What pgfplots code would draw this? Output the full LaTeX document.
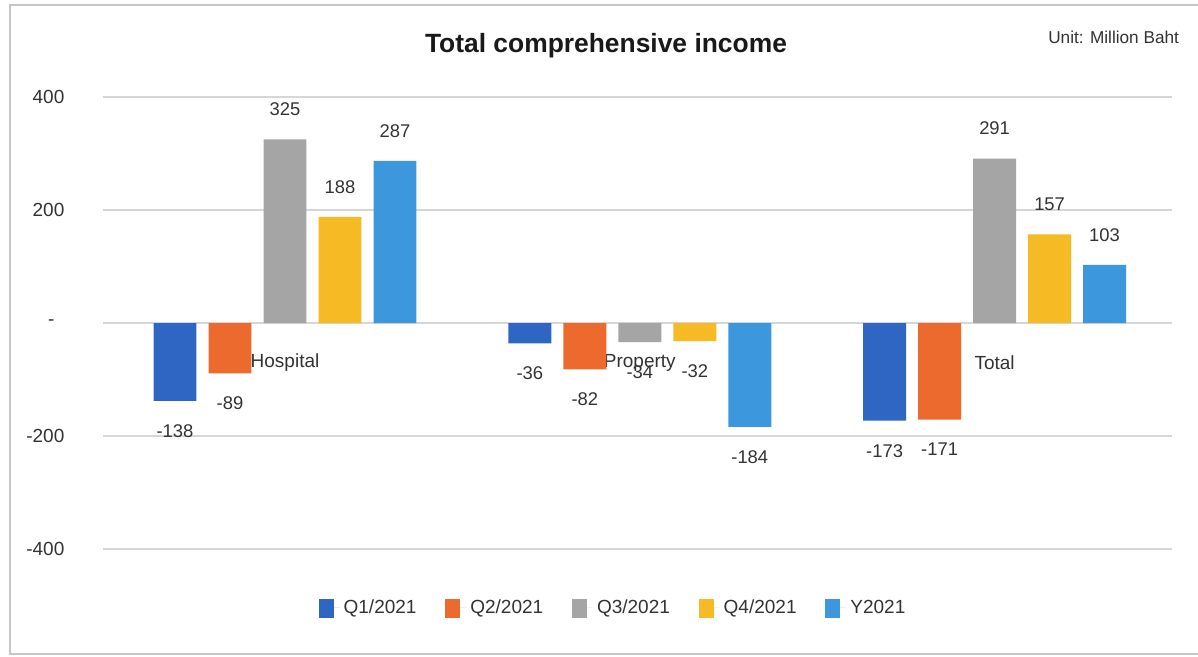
\documentclass[border=0pt]{standalone}
\usepackage{fontspec}
\setmainfont{Liberation Sans}
\usepackage{pgfplots}
\usepackage{pgfplotstable}
\pgfplotsset{compat=1.18}
\definecolor{cqa}{HTML}{2F66C4}
\definecolor{cqb}{HTML}{EC6A2E}
\definecolor{cqc}{HTML}{A5A5A5}
\definecolor{cqd}{HTML}{F6BA24}
\definecolor{cyr}{HTML}{3C97DC}
\definecolor{txt}{HTML}{333333}

\pgfplotstableread{
x q1 q2 q3 q4 yr
0 -138 -89 325 188 287
1 -36 -82 -34 -32 -184
2 -173 -171 291 157 103
}\data

\begin{document}
\begin{tikzpicture}[x=1pt,y=1pt]
\useasboundingbox (-51.5,-54) rectangle (547.5,274.5);
\fill[white] (-51.5,-54) rectangle (547.5,274.5);
\draw[black!22, line width=0.6pt] (547.5,272) -- (-46.5,272) -- (-46.5,-52.5) -- (547.5,-52.5);
\begin{axis}[
  at={(0,0)}, anchor=south west,
  scale only axis, width=534.5pt, height=226pt,
  xmin=-0.513, xmax=2.5, ymin=-400, ymax=400,
  axis line style={draw=none}, major tick length=0pt,
  ytick={-400,-200,0,200,400},
  yticklabels={-400,-200,{-\kern5pt},200,400},
  yticklabel style={anchor=east, xshift=-15.8pt, text=txt},
  ymajorgrids, grid style={draw=black!16, line width=0.6pt},
  xtick={0,1,2}, xticklabels={Hospital,Property,Total},
  xticklabel style={anchor=center, yshift=93pt, text=txt},
  tick label style={font=\fontsize{9.5}{11}\selectfont},
  bar width=0.121,
  visualization depends on={rawy \as \rawy},
  nodes near coords,
  nodes near coords style={font=\fontsize{9.2}{11}\selectfont, text=txt, anchor=center, yshift={ifthenelse(\rawy<0,-15,15)}},
  /pgf/number format/assume math mode=true,
  legend style={draw=none, fill=none, at={(0.478,-0.1305)}, anchor=center,
    legend columns=5, font=\fontsize{9.5}{11}\selectfont, text=txt,
    /tikz/every even column/.append style={column sep=12.4pt}},
]
\addplot[ybar, fill=cqa, draw=none, legend image code/.code={\fill[cqa] (0pt,-5pt) rectangle (7.5pt,4.5pt); \path (0pt,0pt) -- (10.5pt,0pt);}] table[x expr=\thisrow{x}-0.31, y=q1] {\data};
\addlegendentry{Q1/2021}
\addplot[ybar, fill=cqb, draw=none, legend image code/.code={\fill[cqb] (0pt,-5pt) rectangle (7.5pt,4.5pt); \path (0pt,0pt) -- (10.5pt,0pt);}] table[x expr=\thisrow{x}-0.155, y=q2] {\data};
\addlegendentry{Q2/2021}
\addplot[ybar, fill=cqc, draw=none, legend image code/.code={\fill[cqc] (0pt,-5pt) rectangle (7.5pt,4.5pt); \path (0pt,0pt) -- (10.5pt,0pt);}] table[x=x, y=q3] {\data};
\addlegendentry{Q3/2021}
\addplot[ybar, fill=cqd, draw=none, legend image code/.code={\fill[cqd] (0pt,-5pt) rectangle (7.5pt,4.5pt); \path (0pt,0pt) -- (10.5pt,0pt);}] table[x expr=\thisrow{x}+0.155, y=q4] {\data};
\addlegendentry{Q4/2021}
\addplot[ybar, fill=cyr, draw=none, legend image code/.code={\fill[cyr] (0pt,-5pt) rectangle (7.5pt,4.5pt); \path (0pt,0pt) -- (10.5pt,0pt);}] table[x expr=\thisrow{x}+0.31, y=yr] {\data};
\addlegendentry{Y2021}
\end{axis}
\node[font=\bfseries\fontsize{13.2}{15}\selectfont, text=black!90] at (251.5,251.5) {Total comprehensive income};
\node[anchor=east, font=\fontsize{8.6}{10}\selectfont, text=txt] at (541.5,256) {Unit: Million Baht};
\end{tikzpicture}
\end{document}
